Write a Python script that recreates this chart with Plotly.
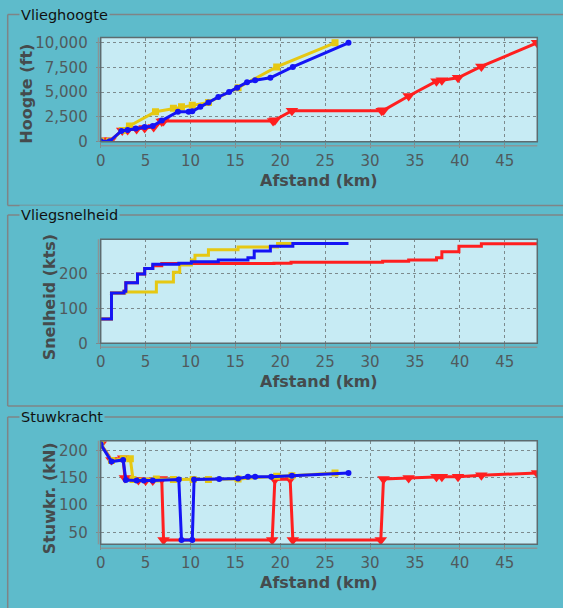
import plotly.graph_objects as go

# ---------------- data ----------------
# Vlieghoogte (altitude, ft) vs Afstand (km)
alt_red_x = [0, 1.1, 2.4, 3.0, 4.0, 4.9, 5.9, 6.8, 7.0, 19.2, 19.4, 21.3, 31.3, 31.5, 34.3, 37.4, 38.0, 39.8, 42.4, 48.6]
alt_red_y = [100, 100, 1100, 1150, 1250, 1350, 1450, 2000, 2050, 2050, 2150, 3100, 3100, 3150, 4600, 6100, 6200, 6450, 7600, 10000]
alt_yel_x = [0, 1.0, 2.4, 3.2, 6.1, 8.1, 9.0, 10.2, 12.0, 15.3, 19.6, 26.1]
alt_yel_y = [0, 0, 1100, 1550, 3000, 3350, 3500, 3650, 3950, 5450, 7550, 10000]
alt_blu_x = [0, 1.0, 2.3, 3.0, 3.9, 4.9, 5.8, 6.8, 8.6, 9.8, 10.2, 11.1, 12.0, 13.1, 14.3, 15.2, 16.3, 17.2, 18.9, 21.4, 27.6]
alt_blu_y = [0, 0, 1050, 1150, 1300, 1450, 1550, 2100, 3000, 3000, 3050, 3500, 3950, 4500, 5000, 5450, 6000, 6200, 6450, 7550, 10000]

# Vliegsnelheid (speed, kts) vs Afstand (km) - step lines
spd_red_x = [0, 1.2, 2.6, 2.8, 4.1, 4.9, 5.8, 6.8, 19.3, 21.2, 31.4, 34.3, 37.4, 38.0, 39.9, 42.4, 48.6]
spd_red_y = [70, 145, 150, 175, 200, 216, 224, 230, 231, 234, 237, 240, 247, 264, 280, 287, 287]
spd_yel_x = [0, 1.2, 2.7, 6.2, 8.1, 8.8, 10.1, 10.5, 12.0, 15.3, 19.7, 26.1]
spd_yel_y = [70, 145, 148, 177, 205, 226, 240, 254, 270, 278, 288, 288]
spd_blu_x = [0, 1.2, 2.6, 2.8, 4.1, 4.9, 5.8, 8.7, 10.1, 13.1, 16.4, 17.1, 18.9, 21.4, 27.6]
spd_blu_y = [70, 145, 150, 175, 200, 216, 228, 231, 235, 240, 247, 266, 280, 288, 288]

# Stuwkracht (thrust, kN) vs Afstand (km)
thr_red_x = [0, 1.2, 2.5, 2.7, 4.2, 5.0, 5.8, 6.8, 7.0, 19.1, 19.4, 21.1, 21.4, 31.2, 31.5, 34.3, 37.4, 38.0, 39.8, 42.4, 48.6]
thr_red_y = [212, 183, 186, 150, 146, 145, 145, 148, 36, 36, 147, 148, 36, 36, 148, 150, 152, 152, 152, 155, 159]
thr_yel_x = [0, 1.2, 2.5, 3.3, 3.6, 6.2, 8.1, 10.3, 12.0, 15.3, 19.6, 21.3, 26.1]
thr_yel_y = [212, 182, 185, 185, 147, 148, 147, 147, 147, 148, 153, 154, 159]
thr_blu_x = [0, 1.2, 2.5, 2.8, 4.0, 4.8, 5.8, 8.7, 9.0, 10.2, 10.4, 13.2, 15.3, 16.4, 17.2, 19.0, 21.3, 27.6]
thr_blu_y = [212, 180, 183, 146, 145, 145, 145, 147, 36, 36, 147, 148, 149, 152, 152, 152, 154, 159]

x_ticks = [0, 5, 10, 15, 20, 25, 30, 35, 40, 45]
alt_ticks = [0, 2500, 5000, 7500, 10000]
spd_ticks = [0, 100, 200]
thr_ticks = [50, 100, 150, 200]

panel_titles = ["Vlieghoogte", "Vliegsnelheid", "Stuwkracht"]
y_titles = ["Hoogte (ft)", "Snelheid (kts)", "Stuwkr. (kN)"]
x_title = "Afstand (km)"

# ---------------- style ----------------
W, H = 563, 608
BG = "#5ebbcb"
PLOT_BG = "#c7ebf4"
RED = "#ff1f1f"
BLUE = "#1414f5"
YELLOW = "#e6c812"
FONT = "DejaVu Sans"
TICK_COL = "#505a5d"
TITLE_COL = "#454b4d"
GRID = "#7d8a8d"
BOX_COL = "#7f8486"

def px(x):
    return x / W

def py(y):
    return 1 - y / H

PLOT_L, PLOT_R = 100.7, 537.3
panels = [
    dict(top=37.5, bottom=141.7, yr=[-40, 10540], yt=alt_ticks, fmt=",d",
         box=(14.5, 205.5), ytitle_pos=(26.7, 94), xtitle_y=180),
    dict(top=239.3, bottom=343.3, yr=[0, 300], yt=spd_ticks, fmt="d",
         box=(215, 406), ytitle_pos=(49.3, 297), xtitle_y=381.7),
    dict(top=440.7, bottom=544.3, yr=[27.9, 218.4], yt=thr_ticks, fmt="d",
         box=(417, None), ytitle_pos=(49.3, 498), xtitle_y=582.7),
]

fig = go.Figure()

def add_series(i, x, y, color, symbol, size, shape="linear", markers=True):
    sfx = "" if i == 0 else str(i + 1)
    fig.add_trace(go.Scatter(
        x=x, y=y, xaxis="x" + sfx, yaxis="y" + sfx,
        mode="lines+markers" if markers else "lines",
        line=dict(color=color, width=3, shape=shape),
        marker=dict(color=color, symbol=symbol, size=size),
        showlegend=False, hoverinfo="skip"))

add_series(0, alt_red_x, alt_red_y, RED, "triangle-down", 11)
add_series(0, alt_yel_x, alt_yel_y, YELLOW, "square", 7)
add_series(0, alt_blu_x, alt_blu_y, BLUE, "circle", 6)

add_series(1, spd_red_x, spd_red_y, RED, "circle", 4, shape="hv", markers=False)
add_series(1, spd_yel_x, spd_yel_y, YELLOW, "circle", 4, shape="hv", markers=False)
add_series(1, spd_blu_x, spd_blu_y, BLUE, "circle", 4, shape="hv", markers=False)

add_series(2, thr_red_x, thr_red_y, RED, "triangle-down", 11)
add_series(2, thr_yel_x, thr_yel_y, YELLOW, "square", 7)
add_series(2, thr_blu_x, thr_blu_y, BLUE, "circle", 6)

shapes = []
annotations = []
layout = {}

def hline(x0, x1, y, color, width):
    shapes.append(dict(type="line", xref="paper", yref="paper",
                       x0=px(x0), x1=px(x1), y0=py(y), y1=py(y),
                       line=dict(color=color, width=width), layer="below"))

def vline(x, y0, y1, color, width):
    shapes.append(dict(type="line", xref="paper", yref="paper",
                       x0=px(x), x1=px(x), y0=py(y0), y1=py(y1),
                       line=dict(color=color, width=width), layer="below"))

for i, p in enumerate(panels):
    sfx = "" if i == 0 else str(i + 1)
    layout["xaxis" + sfx] = dict(
        domain=[px(PLOT_L), px(PLOT_R)], range=[0, 48.63], anchor="y" + sfx,
        tickvals=x_ticks, ticks="outside", ticklen=5, tickcolor="#7d8a8d",
        tickfont=dict(family=FONT, size=15, color=TICK_COL), automargin=False,
        showgrid=True, gridcolor=GRID, griddash="dot", gridwidth=1,
        zeroline=False, showline=False, fixedrange=True)
    layout["yaxis" + sfx] = dict(
        domain=[py(p["bottom"]), py(p["top"])], range=p["yr"], anchor="x" + sfx,
        tickvals=p["yt"], tickformat=p["fmt"], ticks="outside", ticklen=4,
        tickcolor="#7d8a8d", ticklabelstandoff=5, automargin=False,
        tickfont=dict(family=FONT, size=15, color=TICK_COL),
        showgrid=True, gridcolor=GRID, griddash="dot", gridwidth=1,
        zeroline=False, showline=False, fixedrange=True)
    # group box (top, left, bottom lines; right edge is outside the picture)
    b0, b1 = p["box"]
    hline(7.7, W, b0, BOX_COL, 1.5)
    vline(7.7, b0, b1 if b1 is not None else H, BOX_COL, 1.5)
    if b1 is not None:
        hline(7.7, W, b1, BOX_COL, 1.5)
    annotations.append(dict(text=panel_titles[i], xref="paper", yref="paper",
                            x=px(19), y=py(b0), xanchor="left", yanchor="middle",
                            showarrow=False, bgcolor=BG, borderpad=1,
                            font=dict(family=FONT, size=14.5, color="#111111")))
    # plot border
    shapes.append(dict(type="rect", xref="paper", yref="paper",
                       x0=px(PLOT_L), x1=px(PLOT_R), y0=py(p["bottom"]), y1=py(p["top"]),
                       line=dict(color="#5d6b6f", width=1.5), layer="above"))
    # offset axis lines
    shapes.append(dict(type="line", xref="paper", yref="paper",
                       x0=px(98.5), x1=px(98.5), y0=py(p["bottom"]), y1=py(p["top"]),
                       line=dict(color="#8a9597", width=1.5)))
    shapes.append(dict(type="line", xref="paper", yref="paper",
                       x0=px(PLOT_L), x1=px(PLOT_R), y0=py(p["bottom"] + 4), y1=py(p["bottom"] + 4),
                       line=dict(color="#8a9597", width=1.5)))
    # axis titles
    annotations.append(dict(text="<b>" + x_title + "</b>", xref="paper", yref="paper",
                            x=px((PLOT_L + PLOT_R) / 2), y=py(p["xtitle_y"]),
                            xanchor="center", yanchor="middle", showarrow=False,
                            font=dict(family=FONT, size=16, color=TITLE_COL)))
    tx, ty = p["ytitle_pos"]
    annotations.append(dict(text="<b>" + y_titles[i] + "</b>", xref="paper", yref="paper",
                            x=px(tx), y=py(ty), xanchor="center", yanchor="middle",
                            textangle=-90, showarrow=False,
                            font=dict(family=FONT, size=16, color=TITLE_COL)))

fig.update_layout(
    width=W, height=H, margin=dict(l=0, r=0, t=0, b=0, autoexpand=False),
    paper_bgcolor=BG, plot_bgcolor=PLOT_BG,
    shapes=shapes, annotations=annotations, showlegend=False,
    font=dict(family=FONT), **layout)

fig.write_html(
    "out.html",
    config={"displayModeBar": False, "staticPlot": True},
    post_script="document.body.style.margin='0';document.body.style.padding='0';"
                "document.body.style.overflow='hidden';")
